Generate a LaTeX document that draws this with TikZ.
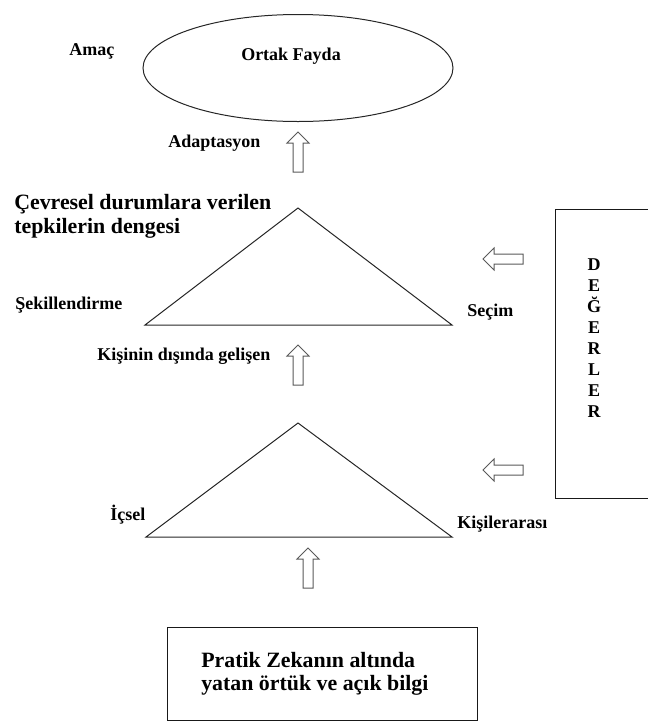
\documentclass[tikz,border=0pt]{standalone}
\usepackage{fontspec}
\setmainfont{Liberation Serif}
\usetikzlibrary{shapes.geometric}
\begin{document}
\begin{tikzpicture}[x=0.75pt, y=-0.75pt,
  lbl/.style={font=\bfseries\fontsize{13.5}{16}\selectfont, inner sep=0pt, anchor=base west},
  bigtxt/.style={font=\bfseries\fontsize{16.4}{18}\selectfont, inner sep=0pt, anchor=base west},
  thinline/.style={draw=black!85, line width=0.75pt},
  boxline/.style={draw=black!90, line width=1pt},
  arrowline/.style={draw=black!65, line width=0.75pt, fill=white, line join=miter},
  blockarrow/.pic={\draw[arrowline] (-5,20) -- (-5,-9) -- (-11,-9) -- (0,-20) -- (11,-9) -- (5,-9) -- (5,20) -- cycle;}
]
\useasboundingbox (0,0) rectangle (648,722);

% goal: common benefit
\node[thinline, ellipse, minimum width=232.5pt, minimum height=80.25pt, inner sep=0pt] (goal) at (298,68) {};
\node[lbl, anchor=base] (fayda) at (291,60) {Ortak Fayda};
\node[lbl] (amac) at (69,55) {Amaç};

% adaptation arrow
\node[lbl] (adapt) at (168,147) {Adaptasyon};
\pic at (298,152) {blockarrow};

% upper triangle: balance of responses
\coordinate (ta) at (298,208);
\coordinate (tl) at (145,325);
\coordinate (tr) at (452,325);
\draw[thinline] (ta) -- (tl) -- (tr) -- cycle;
\node[bigtxt] (cev1) at (14,209) {Çevresel durumlara verilen};
\node[bigtxt] (cev2) at (14,233) {tepkilerin dengesi};
\node[lbl] (sekil) at (15,309) {Şekillendirme};
\node[lbl] (secim) at (467,316) {Seçim};

% arrow between triangles
\node[lbl] (disinda) at (97,360) {Kişinin dışında gelişen};
\pic at (298,365) {blockarrow};

% lower triangle
\coordinate (ba) at (298,423);
\coordinate (bl) at (146,537);
\coordinate (br) at (452,537);
\draw[thinline] (ba) -- (bl) -- (br) -- cycle;
\node[lbl] (icsel) at (110,520) {İçsel};
\node[lbl] (kisiler) at (457,528) {Kişilerarası};

% values box with arrows
\node[boxline, rectangle, minimum width=73.5pt, minimum height=216.75pt, inner sep=0pt, anchor=north west] (degerbox) at (555,209) {};
\foreach \l [count=\i] in {D,E,Ğ,E,R,L,E,R}
  \node[lbl, anchor=base] (val\i) at (594,{270+21*(\i-1)}) {\l};
\pic[rotate=90] at (503,259) {blockarrow};
\pic[rotate=90] at (503,470) {blockarrow};

% knowledge base
\pic at (308,568) {blockarrow};
\node[boxline, rectangle, minimum width=232.5pt, minimum height=69.75pt, inner sep=0pt, anchor=north west] (bilgi) at (167,627) {};
\node[bigtxt] (pz1) at (201,667) {Pratik Zekanın altında};
\node[bigtxt] (pz2) at (201,690) {yatan örtük ve açık bilgi};
\end{tikzpicture}
\end{document}
